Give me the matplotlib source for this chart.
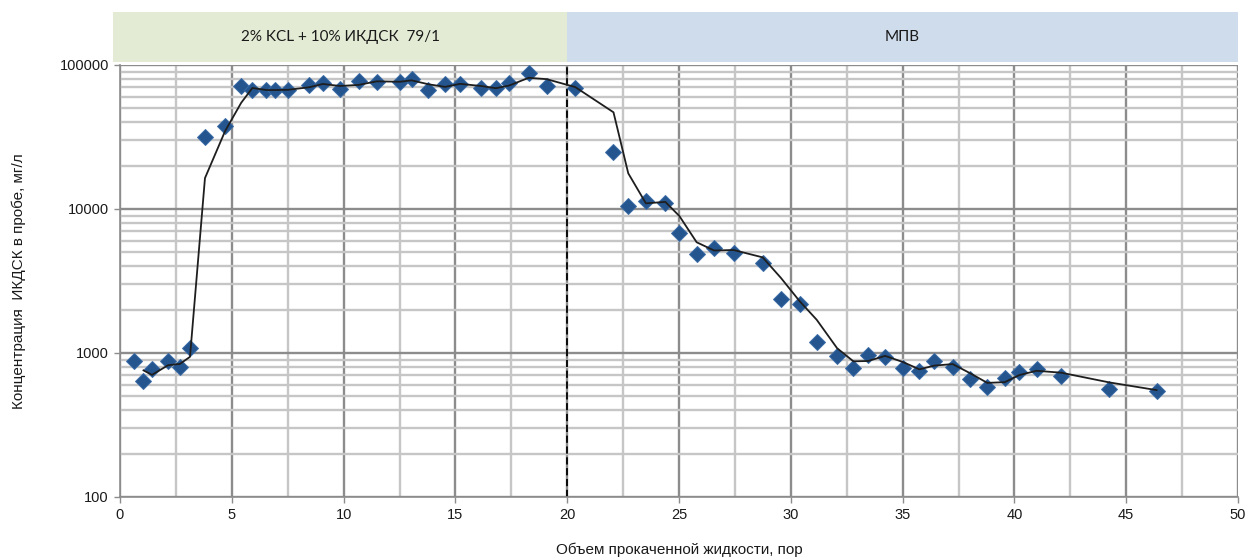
import numpy as np
import matplotlib
matplotlib.use("Agg")
import matplotlib.pyplot as plt
from matplotlib.ticker import FixedLocator, NullFormatter, LogLocator
from matplotlib.patches import Rectangle

# Pumped volume (pore volumes) and measured ИКДСК concentration, mg/l
volume = [0.63, 1.05, 1.43, 2.15, 2.68, 3.13, 3.80, 4.70, 5.42, 5.92, 6.55, 6.95,
          7.52, 8.47, 9.07, 9.84, 10.67, 11.48, 12.52, 13.04, 13.79, 14.54, 15.21,
          16.14, 16.81, 17.40, 18.28, 19.08, 20.36, 22.07, 22.73, 23.52, 24.39,
          25.02, 25.79, 26.57, 27.44, 28.74, 29.56, 30.39, 31.16, 32.07, 32.80,
          33.46, 34.22, 35.04, 35.75, 36.42, 37.24, 38.01, 38.79, 39.57, 40.22,
          40.99, 42.09, 44.24, 46.36]
conc = [875, 640, 770, 875, 805, 1076, 31700, 37800, 71500, 67000, 67000, 67000,
        67500, 72700, 75000, 68000, 77500, 76500, 76500, 80000, 67000, 74000, 74000,
        69000, 69000, 75000, 88000, 71500, 69000, 24900, 10500, 11400, 11000,
        6850, 4900, 5400, 4980, 4250, 2390, 2200, 1200, 960, 790,
        970, 940, 785, 755, 880, 795, 655, 585, 670, 735,
        770, 690, 560, 545]

stage_labels = ["2% KCL + 10% ИКДСК  79/1", "МПВ"]
stage_edges = [0, 20, 50]
stage_colors = ["#E3EBD4", "#CFDCEC"]

x_ticks = list(range(0, 51, 5))
y_ticks = [100, 1000, 10000, 100000]
y_tick_labels = ["100", "1000", "10000", "100000"]

plt.rcParams['font.family'] = ['Liberation Sans', 'DejaVu Sans']

fig = plt.figure(figsize=(12.48, 5.6), dpi=100)
ax = fig.add_axes([120 / 1248, 63 / 560, 1118 / 1248, 432 / 560])
ax.set_xlim(0, 50)
ax.set_ylim(100, 100000)
ax.set_yscale('log')

# grid
ax.xaxis.set_major_locator(FixedLocator(x_ticks))
ax.xaxis.set_minor_locator(FixedLocator([v + 2.5 for v in x_ticks[:-1]]))
ax.yaxis.set_major_locator(FixedLocator(y_ticks))
ax.yaxis.set_minor_locator(LogLocator(base=10, subs=np.arange(2, 10)))
ax.yaxis.set_minor_formatter(NullFormatter())
ax.set_yticklabels(y_tick_labels)
ax.grid(which='major', color='#8C8C8C', linewidth=1.7)
ax.grid(which='minor', color='#C6C6C6', linewidth=1.7)
ax.set_axisbelow(True)
ax.tick_params(which='minor', length=0)
ax.tick_params(which='major', length=4, width=1, color='#8C8C8C',
               labelsize=10.5, labelcolor='#1A1A1A', pad=4)
for side in ['left', 'bottom']:
    ax.spines[side].set_color('#8C8C8C')
    ax.spines[side].set_linewidth(1.2)
for side in ['right', 'top']:
    ax.spines[side].set_visible(False)

# stage boundary
ax.axvline(stage_edges[1], color='black', linestyle=(0, (4, 2)), linewidth=1.3, zorder=2)

# measured samples
ax.plot(volume, conc, linestyle='none', marker='D', markersize=8.6,
        color='#25558F', markeredgecolor='#3A6BA6', markeredgewidth=0.7, zorder=3)

# two-point moving average trend
trend = np.convolve(np.asarray(conc, dtype=float), [0.5, 0.5], mode='valid')
ax.plot(volume[1:], trend, color='#1E1E1E', linewidth=1.3, zorder=4)

ax.set_xlabel("Объем прокаченной жидкости, пор", fontsize=11, labelpad=15, color='#1A1A1A')
ax.set_ylabel("Концентрация  ИКДСК в пробе, мг/л", fontsize=11, labelpad=24, color='#1A1A1A')

# stage header band above the plot
band_y0 = 1 - 62 / 560
band_h = 50 / 560
for i, (label, color) in enumerate(zip(stage_labels, stage_colors)):
    x0 = stage_edges[i]
    x1 = stage_edges[i + 1]
    fx0 = ax.transData.transform((x0, 100))[0] / fig.bbox.width
    fx1 = ax.transData.transform((x1, 100))[0] / fig.bbox.width
    if i == 0:
        fx0 = 113 / 1248
    fig.patches.append(Rectangle((fx0, band_y0), fx1 - fx0, band_h,
                                 transform=fig.transFigure, facecolor=color,
                                 edgecolor='none', zorder=0))
    fig.text((fx0 + fx1) / 2, band_y0 + band_h / 2, label, ha='center', va='center',
             fontsize=11, color='#1A1A1A', family=['Lato', 'DejaVu Sans'])

fig.savefig("out.png", dpi=100)
